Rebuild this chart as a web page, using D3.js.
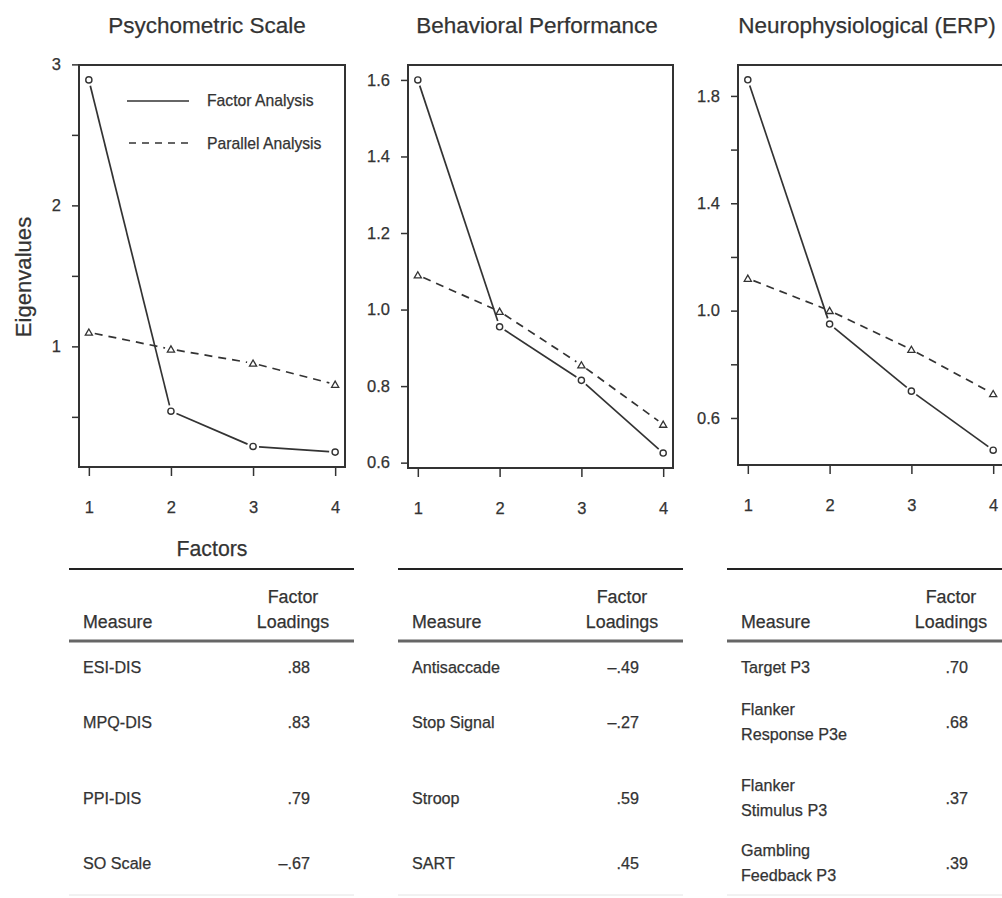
<!DOCTYPE html>
<html><head><meta charset="utf-8">
<script src="https://cdn.jsdelivr.net/npm/d3@7"></script>
<style>
body{margin:0;background:#fff;}
svg{display:block;}
text{font-family:"Liberation Sans", Arial, Helvetica, sans-serif; fill:#333; stroke:#333; stroke-width:0.25px;}
</style></head><body>
<svg id="chart" width="1002" height="898"></svg>
<script>
// ---------- data ----------
const factors = [1, 2, 3, 4];
const panelTitles = ["Psychometric Scale", "Behavioral Performance", "Neurophysiological (ERP)"];
const faPsych = [2.89, 0.54, 0.29, 0.25];
const paPsych = [1.10, 0.98, 0.88, 0.73];
const faBehav = [1.60, 0.955, 0.815, 0.625];
const paBehav = [1.09, 0.995, 0.855, 0.70];
const faNeuro = [1.86, 0.95, 0.70, 0.48];
const paNeuro = [1.12, 1.00, 0.855, 0.69];
const yTicksPsych = [0.5, 1, 1.5, 2, 2.5, 3];
const yLabelsPsych = [1, 2, 3];
const yTicksBehav = [0.6, 0.8, 1.0, 1.2, 1.4, 1.6];
const yLabelsBehav = [0.6, 0.8, 1.0, 1.2, 1.4, 1.6];
const yTicksNeuro = [0.6, 0.8, 1.0, 1.2, 1.4, 1.6, 1.8];
const yLabelsNeuro = [0.6, 1.0, 1.4, 1.8];
const legendLabels = ["Factor Analysis", "Parallel Analysis"];
const xAxisTitle = "Factors";
const yAxisTitle = "Eigenvalues";
const tableHeaders = ["Measure", "Factor", "Loadings"];
const measuresPsych = ["ESI-DIS", "MPQ-DIS", "PPI-DIS", "SO Scale"];
const loadingsPsych = [".88", ".83", ".79", "\u2013.67"];
const measuresBehav = ["Antisaccade", "Stop Signal", "Stroop", "SART"];
const loadingsBehav = ["\u2013.49", "\u2013.27", ".59", ".45"];
const measuresNeuro = ["Target P3", "Flanker\nResponse P3e", "Flanker\nStimulus P3", "Gambling\nFeedback P3"];
const loadingsNeuro = [".70", ".68", ".37", ".39"];

// ---------- font detection (condensed face if installed) ----------
const ctx = document.createElement("canvas").getContext("2d");
ctx.font = '20px "Liberation Sans Narrow", monospace';
const wN = ctx.measureText("Measure Loadings").width;
ctx.font = '20px monospace';
const wM = ctx.measureText("Measure Loadings").width;
const hasNarrow = Math.abs(wN - wM) > 0.5;
const narrowFam = hasNarrow ? '"Liberation Sans Narrow", "Liberation Sans", sans-serif' : '"Liberation Sans", sans-serif';
const nScale = hasNarrow ? 1 : 0.85; // size factor when no condensed face
function cond(sel, size) {
  sel.style("font-family", narrowFam).style("font-size", (size * nScale) + "px");
  return sel;
}

// ---------- layout ----------
const ink = "#333";
const layout = [
  {left: 79,  right: 345,  top: 65, bottom: 467, titleX: 207, fmt: d3.format("d")},
  {left: 408, right: 673,  top: 65, bottom: 468, titleX: 537, fmt: d3.format(".1f")},
  {left: 738, right: 1003, top: 65, bottom: 465, titleX: 867, fmt: d3.format(".1f")}
];
const panels = [
  {fa: faPsych, pa: paPsych, ticks: yTicksPsych, labels: yLabelsPsych, measures: measuresPsych, loadings: loadingsPsych},
  {fa: faBehav, pa: paBehav, ticks: yTicksBehav, labels: yLabelsBehav, measures: measuresBehav, loadings: loadingsBehav},
  {fa: faNeuro, pa: paNeuro, ticks: yTicksNeuro, labels: yLabelsNeuro, measures: measuresNeuro, loadings: loadingsNeuro}
];
const tableLeft = [69, 398, 727];
const tableWidth = 285;
const rowCenters = [666, 721, 797, 862];

const svg = d3.select("#chart");

function gapSegments(pts, gap) {
  const segs = [];
  for (let i = 0; i < pts.length - 1; i++) {
    const [x1, y1] = pts[i], [x2, y2] = pts[i + 1];
    const dx = x2 - x1, dy = y2 - y1, L = Math.hypot(dx, dy);
    if (L <= 2 * gap) continue;
    const ux = dx / L, uy = dy / L;
    segs.push([x1 + ux * gap, y1 + uy * gap, x2 - ux * gap, y2 - uy * gap]);
  }
  return segs;
}

panels.forEach((p, i) => {
  const L = layout[i];
  const g = svg.append("g");
  const x = d3.scaleLinear().domain([0.88, 4.12]).range([L.left, L.right]);
  const ext = d3.extent(p.fa.concat(p.pa));
  const pad = (ext[1] - ext[0]) * 0.04;
  const y = d3.scaleLinear().domain([ext[0] - pad, ext[1] + pad]).range([L.bottom, L.top]);

  // title
  g.append("text").attr("x", L.titleX).attr("y", 33).attr("text-anchor", "middle")
    .style("font-size", "22.5px").text(panelTitles[i]);

  // y axis
  const ya = g.append("g").attr("transform", `translate(${L.left},0)`)
    .call(d3.axisLeft(y).tickValues(p.ticks)
      .tickFormat(d => p.labels.some(v => Math.abs(v - d) < 1e-9) ? L.fmt(d) : "")
      .tickSize(7).tickPadding(11));
  ya.select(".domain").remove();
  ya.selectAll("line").attr("stroke", ink).attr("stroke-width", 1.5);
  ya.selectAll("text").style("font-size", "16.5px").attr("fill", ink);

  // x axis
  const xa = g.append("g").attr("transform", `translate(0,${L.bottom})`)
    .call(d3.axisBottom(x).tickValues(factors).tickFormat(d3.format("d")).tickSize(9).tickPadding(25));
  xa.select(".domain").remove();
  xa.selectAll("line").attr("stroke", ink).attr("stroke-width", 1.5);
  xa.selectAll("text").style("font-size", "16.5px").attr("fill", ink);

  // box
  g.append("rect").attr("x", L.left).attr("y", L.top)
    .attr("width", L.right - L.left).attr("height", L.bottom - L.top)
    .attr("fill", "none").attr("stroke", ink).attr("stroke-width", 2);

  const faPts = factors.map((f, k) => [x(f), y(p.fa[k])]);
  const paPts = factors.map((f, k) => [x(f), y(p.pa[k])]);

  // parallel analysis (dashed)
  g.selectAll(null).data(gapSegments(paPts, 6)).join("line")
    .attr("x1", d => d[0]).attr("y1", d => d[1]).attr("x2", d => d[2]).attr("y2", d => d[3])
    .attr("stroke", ink).attr("stroke-width", 1.7).attr("stroke-dasharray", "8,6");
  // factor analysis (solid)
  g.selectAll(null).data(gapSegments(faPts, 6)).join("line")
    .attr("x1", d => d[0]).attr("y1", d => d[1]).attr("x2", d => d[2]).attr("y2", d => d[3])
    .attr("stroke", ink).attr("stroke-width", 1.7);

  g.selectAll(null).data(faPts).join("circle")
    .attr("cx", d => d[0]).attr("cy", d => d[1]).attr("r", 3.1)
    .attr("fill", "none").attr("stroke", ink).attr("stroke-width", 1.4);
  g.selectAll(null).data(paPts).join("path")
    .attr("transform", d => `translate(${d[0]},${d[1] + 0.8})`)
    .attr("d", d3.symbol(d3.symbolTriangle, 22))
    .attr("fill", "none").attr("stroke", ink).attr("stroke-width", 1.3);

  // table
  const tl = tableLeft[i];
  const t = svg.append("g");
  t.append("line").attr("x1", tl).attr("x2", tl + tableWidth).attr("y1", 569).attr("y2", 569)
    .attr("stroke", "#222").attr("stroke-width", 2);
  t.append("line").attr("x1", tl).attr("x2", tl + tableWidth).attr("y1", 641).attr("y2", 641)
    .attr("stroke", "#666").attr("stroke-width", 3);
  t.append("line").attr("x1", tl).attr("x2", tl + tableWidth).attr("y1", 895).attr("y2", 895)
    .attr("stroke", "#e4e4e4").attr("stroke-width", 1);
  cond(t.append("text").attr("x", tl + 14).attr("y", 628), 21).text(tableHeaders[0]);
  cond(t.append("text").attr("x", tl + 224).attr("y", 603).attr("text-anchor", "middle"), 21).text(tableHeaders[1]);
  cond(t.append("text").attr("x", tl + 224).attr("y", 628).attr("text-anchor", "middle"), 21).text(tableHeaders[2]);

  p.measures.forEach((m, r) => {
    const lines = m.split("\n");
    const cy = rowCenters[r];
    lines.forEach((ln, j) => {
      const off = (j - (lines.length - 1) / 2) * 25;
      cond(t.append("text").attr("x", tl + 14).attr("y", cy + off + 6.5), 19).text(ln);
    });
    cond(t.append("text").attr("x", tl + 241).attr("y", cy + 6.5).attr("text-anchor", "end"), 19)
      .text(p.loadings[r]);
  });
});

// legend (panel 1)
const lg = svg.append("g");
lg.append("line").attr("x1", 127).attr("x2", 189).attr("y1", 101).attr("y2", 101)
  .attr("stroke", ink).attr("stroke-width", 1.7);
lg.append("line").attr("x1", 129).attr("x2", 191).attr("y1", 143).attr("y2", 143)
  .attr("stroke", ink).attr("stroke-width", 1.7).attr("stroke-dasharray", "7,6");
cond(lg.append("text").attr("x", 207).attr("y", 106), 18.5).text(legendLabels[0]);
cond(lg.append("text").attr("x", 207).attr("y", 149), 18.5).text(legendLabels[1]);

// axis titles
cond(svg.append("text").attr("x", 212).attr("y", 556).attr("text-anchor", "middle"), 25).text(xAxisTitle);
cond(svg.append("text").attr("transform", "translate(31,277) rotate(-90)").attr("text-anchor", "middle"), 26)
  .text(yAxisTitle);
</script>
</body></html>
